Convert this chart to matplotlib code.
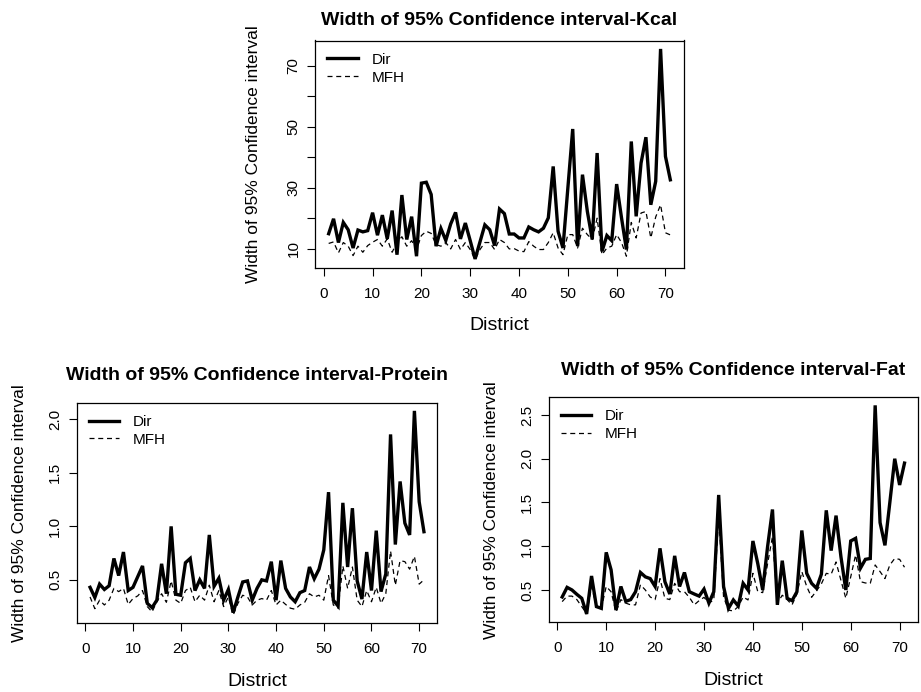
import matplotlib
matplotlib.use("Agg")
import matplotlib.pyplot as plt
import numpy as np

plt.rcParams['font.family'] = ['Liberation Sans', 'DejaVu Sans']

district = list(range(1, 72))

kcal_dir = [14.9, 19.8, 12.0, 18.6, 16.2, 10.2, 16.1, 15.5, 15.9, 21.8,
            14.4, 21.0, 13.2, 22.5, 8.0, 27.6, 13.0, 20.5, 7.5, 31.5,
            31.8, 27.8, 10.8, 16.6, 12.7, 18.1, 21.9, 13.2, 18.4, 12.6,
            6.6, 12.2, 17.8, 16.2, 11.0, 23.0, 21.5, 14.8, 14.8, 13.5,
            13.5, 17.1, 16.2, 15.5, 16.7, 20.1, 37.0, 15.7, 10.2, 29.8,
            49.3, 10.8, 34.3, 22.2, 13.0, 41.4, 9.1, 14.3, 12.6, 31.2,
            20.1, 9.7, 45.2, 20.6, 38.1, 46.6, 24.4, 32.1, 75.6, 40.3,
            32.6]
kcal_mfh = [11.7, 12.2, 8.6, 12.0, 10.8, 7.7, 10.8, 8.8, 11.0, 12.1,
            13.0, 10.8, 13.2, 8.8, 12.0, 13.9, 10.8, 12.6, 9.7, 14.3,
            15.7, 15.0, 11.3, 10.8, 12.0, 9.9, 13.0, 9.7, 12.0, 9.7,
            6.4, 9.7, 12.0, 12.0, 9.7, 13.0, 12.0, 9.9, 10.0, 9.2,
            9.0, 12.3, 10.8, 9.7, 9.7, 12.0, 15.2, 10.2, 8.0, 14.6,
            14.6, 10.2, 16.7, 14.6, 13.0, 20.0, 8.0, 10.2, 10.8, 14.6,
            12.0, 7.5, 18.6, 13.5, 21.7, 22.2, 13.5, 20.4, 24.4, 15.2,
            14.5]

prot_dir = [0.43, 0.335, 0.46, 0.41, 0.445, 0.70, 0.54, 0.76, 0.40, 0.43,
            0.53, 0.63, 0.28, 0.24, 0.31, 0.65, 0.37, 1.00, 0.365, 0.356,
            0.66, 0.70, 0.40, 0.50, 0.42, 0.92, 0.44, 0.515, 0.31, 0.41,
            0.194, 0.34, 0.48, 0.49, 0.31, 0.42, 0.50, 0.49, 0.67, 0.31,
            0.68, 0.42, 0.34, 0.295, 0.38, 0.40, 0.62, 0.51, 0.60, 0.78,
            1.32, 0.31, 0.255, 1.22, 0.62, 1.17, 0.49, 0.32, 0.76, 0.40,
            0.96, 0.39, 0.555, 1.86, 0.83, 1.42, 1.03, 0.92, 2.08, 1.23,
            0.95]
prot_mfh = [0.34, 0.23, 0.31, 0.265, 0.31, 0.42, 0.39, 0.42, 0.27, 0.325,
            0.35, 0.40, 0.25, 0.20, 0.295, 0.37, 0.29, 0.49, 0.31, 0.28,
            0.40, 0.43, 0.295, 0.356, 0.31, 0.45, 0.295, 0.40, 0.25, 0.34,
            0.17, 0.28, 0.356, 0.34, 0.265, 0.31, 0.325, 0.31, 0.40, 0.265,
            0.31, 0.27, 0.235, 0.225, 0.265, 0.29, 0.37, 0.34, 0.356, 0.31,
            0.54, 0.265, 0.235, 0.63, 0.42, 0.62, 0.31, 0.25, 0.40, 0.295,
            0.43, 0.28, 0.37, 0.77, 0.45, 0.68, 0.67, 0.60, 0.72, 0.46,
            0.50]

fat_dir = [0.42, 0.53, 0.50, 0.45, 0.405, 0.226, 0.66, 0.31, 0.29, 0.93,
           0.73, 0.27, 0.54, 0.37, 0.39, 0.48, 0.70, 0.65, 0.63, 0.54,
           0.976, 0.595, 0.454, 0.89, 0.54, 0.70, 0.48, 0.454, 0.43, 0.51,
           0.35, 0.48, 1.586, 0.54, 0.29, 0.386, 0.317, 0.576, 0.50, 1.06,
           0.80, 0.50, 0.995, 1.42, 0.33, 0.835, 0.405, 0.378, 0.48, 1.18,
           0.69, 0.576, 0.52, 0.68, 1.41, 0.95, 1.35, 0.88, 0.50, 1.06,
           1.09, 0.75, 0.85, 0.86, 2.61, 1.27, 1.01, 1.50, 2.00, 1.70,
           1.95]
fat_mfh = [0.367, 0.43, 0.43, 0.39, 0.31, 0.23, 0.54, 0.317, 0.29, 0.54,
           0.48, 0.25, 0.39, 0.35, 0.33, 0.33, 0.56, 0.50, 0.42, 0.39,
           0.63, 0.405, 0.39, 0.576, 0.48, 0.48, 0.416, 0.33, 0.378, 0.416,
           0.35, 0.386, 1.34, 0.42, 0.27, 0.26, 0.31, 0.42, 0.386, 0.69,
           0.48, 0.47, 0.80, 1.11, 0.35, 0.44, 0.39, 0.33, 0.454, 0.71,
           0.54, 0.416, 0.49, 0.57, 0.69, 0.68, 0.82, 0.61, 0.405, 0.65,
           0.90, 0.595, 0.58, 0.576, 0.786, 0.71, 0.63, 0.786, 0.86, 0.85,
           0.76]

titles = ["Width of 95% Confidence interval-Kcal",
          "Width of 95% Confidence interval-Protein",
          "Width of 95% Confidence interval-Fat"]
ylabel = "Width of 95% Confidence interval"
xlabel = "District"
x_ticks = [0, 10, 20, 30, 40, 50, 60, 70]

W, H = 921, 692
fig = plt.figure(figsize=(W / 100, H / 100), dpi=100)

def px_axes(l, t, r, b):
    return fig.add_axes([l / W, 1 - b / H, (r - l) / W, (b - t) / H])

panels = [
    (px_axes(315, 40.5, 684, 268), kcal_dir, kcal_mfh, titles[0],
     [10, 20, 30, 40, 50, 60, 70], ["10", "", "30", "", "50", "", "70"], 11, 18),
    (px_axes(76.7, 402.7, 437.3, 623.3), prot_dir, prot_mfh, titles[1],
     [0.5, 1.0, 1.5, 2.0], ["0.5", "1.0", "1.5", "2.0"], 16, 15),
    (px_axes(548.5, 397, 918.2, 622.3), fat_dir, fat_mfh, titles[2],
     [0.5, 1.0, 1.5, 2.0, 2.5], ["0.5", "1.0", "1.5", "2.0", "2.5"], 16, 15),
]

for ax, d, m, title, yt, ytl, tpad, ypad in panels:
    ax.plot(district, d, color='black', lw=2.4, solid_joinstyle='miter', label='Dir')
    ax.plot(district, m, color='black', lw=0.9, ls=(0, (4, 3)), label='MFH')
    ax.margins(x=0.04, y=0.04)
    ax.set_xticks(x_ticks)
    ax.set_yticks(yt)
    ax.set_yticklabels(ytl, rotation=90, va='center')
    ax.tick_params(direction='out', length=5.5, width=0.8, labelsize=11, pad=8)
    ax.tick_params(axis='y', pad=5)
    for s in ax.spines.values():
        s.set_linewidth(0.9)
    ax.set_title(title, fontsize=14, fontweight='bold', pad=tpad)
    ax.set_xlabel(xlabel, fontsize=14, labelpad=12)
    ax.set_ylabel(ylabel, fontsize=12.5, labelpad=ypad)
    ax.legend(loc='upper left', frameon=False, fontsize=11, handlelength=2.0,
              borderaxespad=0.5, borderpad=0.3, labelspacing=0.25,
              handletextpad=0.9)

fig.savefig("out.png", dpi=100)
